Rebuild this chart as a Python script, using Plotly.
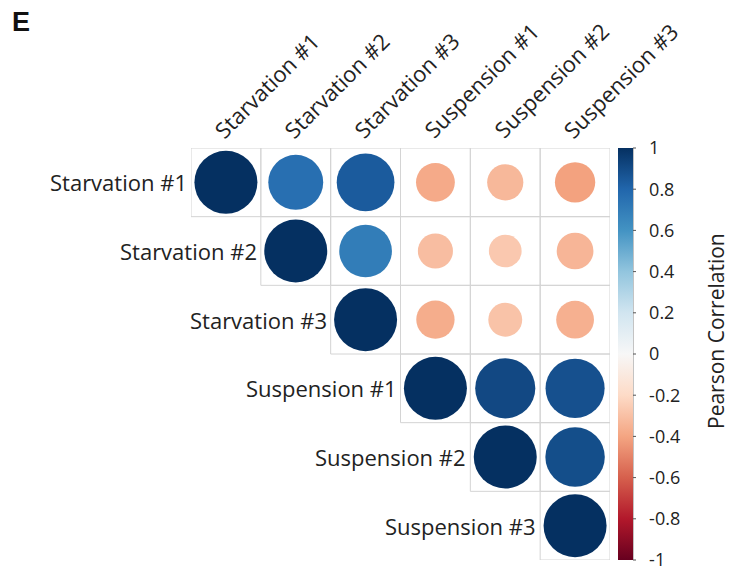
import numpy as np
import plotly.graph_objects as go
import plotly.express as px

# Samples shown in the correlation matrix
samples = ["Starvation #1", "Starvation #2", "Starvation #3",
           "Suspension #1", "Suspension #2", "Suspension #3"]

# Upper-triangle Pearson correlations, one list per row (starting at the diagonal)
row_starv1 = [1.00, 0.76, 0.84, -0.38, -0.33, -0.41]
row_starv2 = [1.00, 0.70, -0.31, -0.27, -0.34]
row_starv3 = [1.00, -0.37, -0.29, -0.36]
row_susp1 = [1.00, 0.91, 0.88]
row_susp2 = [1.00, 0.89]
row_susp3 = [1.00]
rows = [row_starv1, row_starv2, row_starv3, row_susp1, row_susp2, row_susp3]

colorbar_ticks = [1, 0.8, 0.6, 0.4, 0.2, 0, -0.2, -0.4, -0.6, -0.8, -1]

FONT = "Open Sans"
TEXT = "#222"
max_diam = 63

# plot area in pixels
W, H = 729, 572
L, R, T, B = 191, 119, 148, 12
pw, ph = W - L - R, H - T - B

# colorbar geometry (pixels)
CB_X0, CB_W = 618, 15

xs, ys, vals = [], [], []
for i, row in enumerate(rows):
    for k, v in enumerate(row):
        xs.append(i + k)
        ys.append(i)
        vals.append(v)
vals = np.array(vals)
sizes = max_diam * np.sqrt(np.abs(vals))

fig = go.Figure()

# cell borders for the upper triangle
for i in range(len(samples)):
    for j in range(i, len(samples)):
        fig.add_shape(type="rect", x0=j - 0.5, x1=j + 0.5, y0=i - 0.5, y1=i + 0.5,
                      line=dict(color="#d4d4d4", width=1), layer="below")

fig.add_trace(go.Scatter(
    x=xs, y=ys, mode="markers",
    marker=dict(
        size=sizes, color=vals, cmin=-1, cmax=1, opacity=1,
        colorscale=px.colors.diverging.RdBu,
        line=dict(width=0),
        showscale=True,
        colorbar=dict(
            x=(CB_X0 - L) / pw, xanchor="left", xpad=0, y=0.5, yanchor="middle",
            len=1, lenmode="fraction", thickness=CB_W, ypad=0,
            outlinewidth=0,
            tickvals=colorbar_ticks,
            ticktext=[f"{t:g}" for t in colorbar_ticks],
            # long invisible ticks push the labels away from the bar
            ticks="outside", ticklen=13, tickcolor="rgba(255,255,255,0)",
            ticklabeloverflow="allow",
            tickfont=dict(family=FONT, size=18, color=TEXT),
        ),
    ),
    hoverinfo="skip",
))

# thin edge line and short tick marks on the colorbar
edge_x = (CB_X0 + CB_W - L) / pw
fig.add_shape(type="line", xref="paper", yref="paper", x0=edge_x, x1=edge_x,
              y0=0, y1=1, line=dict(color="#888", width=1))
for t in colorbar_ticks:
    yp = (t + 1) / 2
    fig.add_shape(type="line", xref="paper", yref="paper", x0=edge_x,
                  x1=edge_x + 3 / pw, y0=yp, y1=yp, line=dict(color="#555", width=1))

# row labels left of each diagonal cell, column labels slanted above the grid
for i, name in enumerate(samples):
    fig.add_annotation(x=i - 0.5, y=i, text=name, showarrow=False,
                       xanchor="right", yanchor="middle", xshift=-2,
                       font=dict(family=FONT, size=22, color=TEXT))
    fig.add_annotation(x=i, y=-0.5, text=name, showarrow=False,
                       textangle=-45, xanchor="left", yanchor="bottom",
                       xshift=-21, yshift=1,
                       font=dict(family=FONT, size=22, color=TEXT))

# colorbar title
fig.add_annotation(xref="paper", yref="paper", x=(716 - L) / pw, y=(H - B - 331) / ph,
                   text="Pearson Correlation", textangle=-90, showarrow=False,
                   xanchor="center", yanchor="middle",
                   font=dict(family=FONT, size=21, color=TEXT))

# panel letter
fig.add_annotation(xref="paper", yref="paper", x=(10 - L) / pw, y=1 + (T - 22) / ph,
                   text="<b>E</b>", showarrow=False, xanchor="left", yanchor="middle",
                   font=dict(family="Arial", size=27, color="#111"))

fig.update_xaxes(range=[-0.5, 5.5], visible=False, showgrid=False, zeroline=False)
fig.update_yaxes(range=[5.5, -0.5], visible=False, showgrid=False, zeroline=False)
fig.update_layout(
    width=W, height=H,
    margin=dict(l=L, r=R, t=T, b=B),
    plot_bgcolor="white", paper_bgcolor="white",
    showlegend=False,
)
fig.write_html("out.html")
